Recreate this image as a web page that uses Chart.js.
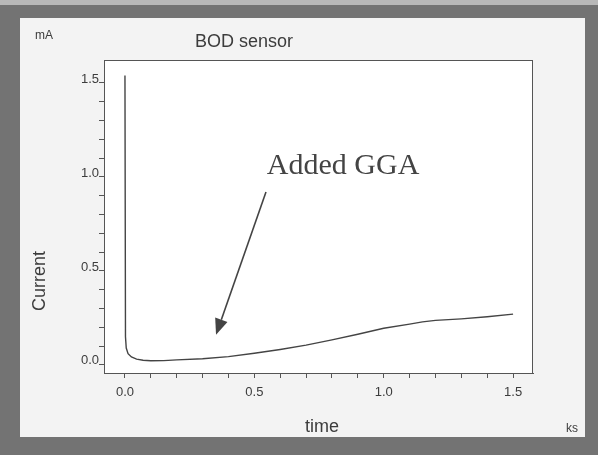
<!DOCTYPE html>
<html>
<head>
<meta charset="utf-8">
<script src="https://cdn.jsdelivr.net/npm/chart.js@4/dist/chart.umd.min.js"></script>
<style>
  html, body { margin: 0; padding: 0; background: #737373; }
  #wrap { width: 598px; height: 455px; }
</style>
</head>
<body>
<div id="wrap"><canvas id="bod" width="598" height="455"></canvas></div>
<script>
// measured BOD sensor response (time in ks, current in mA)
const timeKs = [0, 0.002, 0.005, 0.012, 0.025, 0.045, 0.07, 0.1, 0.15, 0.2, 0.3, 0.4, 0.5,
                0.6, 0.7, 0.8, 0.9, 1.0, 1.1, 1.15, 1.2, 1.3, 1.4, 1.5];
const currentMA = [1.54, 0.15, 0.09, 0.06, 0.042, 0.031, 0.025, 0.022, 0.023, 0.027, 0.033, 0.044, 0.062,
                   0.082, 0.105, 0.133, 0.163, 0.195, 0.217, 0.229, 0.237, 0.245, 0.256, 0.27];

// axis ticks (minor every 0.1, labels on the majors)
const tickValues = [0, 0.1, 0.2, 0.3, 0.4, 0.5, 0.6, 0.7, 0.8, 0.9, 1.0, 1.1, 1.2, 1.3, 1.4, 1.5];
const majorTicks = [0, 0.5, 1.0, 1.5];
const majorLabels = ['0.0', '0.5', '1.0', '1.5'];

// annotation "Added GGA" (data units)
const noteText = 'Added GGA';
const notePos = [0.843, 1.06];
const arrowFrom = [0.545, 0.92];
const arrowTo = [0.352, 0.16];

const ink = '#3c3c3c';
const axisColor = '#555555';

function labelFor(v) {
    const i = majorTicks.findIndex(m => Math.abs(m - v) < 1e-6);
    return i >= 0 ? majorLabels[i] : '';
}

const paperPlugin = {
    id: 'paper',
    beforeDraw(chart) {
        const { ctx, chartArea: a } = chart;
        ctx.save();
        ctx.fillStyle = '#737373';
        ctx.fillRect(0, 0, chart.width, chart.height);
        ctx.fillStyle = '#b8b8b8';
        ctx.fillRect(0, 0, chart.width, 5);
        ctx.fillStyle = '#f3f3f3';
        ctx.fillRect(20, 18, 565, 419);
        ctx.fillStyle = '#ffffff';
        ctx.fillRect(a.left, a.top, a.right - a.left, a.bottom - a.top);
        ctx.restore();
    },
    afterDraw(chart) {
        const { ctx, chartArea: a, scales } = chart;
        ctx.save();
        // frame round the plot
        ctx.strokeStyle = axisColor;
        ctx.lineWidth = 1;
        ctx.strokeRect(a.left + 0.5, a.top + 0.5, a.right - a.left - 1, a.bottom - a.top);

        ctx.fillStyle = ink;
        ctx.textBaseline = 'middle';
        ctx.textAlign = 'center';
        ctx.font = '18px "Liberation Sans", Arial, sans-serif';
        ctx.fillText('BOD sensor', 244, 42);
        ctx.fillText('time', 322, 427);
        ctx.font = '12px "Liberation Sans", Arial, sans-serif';
        ctx.fillText('mA', 44, 36);
        ctx.fillText('ks', 572, 429);

        ctx.save();
        ctx.translate(40, 281);
        ctx.rotate(-Math.PI / 2);
        ctx.font = '18px "Liberation Sans", Arial, sans-serif';
        ctx.fillText('Current', 0, 0);
        ctx.restore();

        // annotation with arrow
        const x = scales.x, y = scales.y;
        ctx.font = '30px "Liberation Serif", "Times New Roman", serif';
        ctx.fillStyle = '#444';
        ctx.fillText(noteText, x.getPixelForValue(notePos[0]), y.getPixelForValue(notePos[1]));

        const x1 = x.getPixelForValue(arrowFrom[0]), y1 = y.getPixelForValue(arrowFrom[1]);
        const x2 = x.getPixelForValue(arrowTo[0]), y2 = y.getPixelForValue(arrowTo[1]);
        const ang = Math.atan2(y2 - y1, x2 - x1);
        const headLen = 16, headW = 6.5;
        const bx = x2 - headLen * Math.cos(ang), by = y2 - headLen * Math.sin(ang);
        ctx.strokeStyle = '#444';
        ctx.lineWidth = 1.6;
        ctx.beginPath();
        ctx.moveTo(x1, y1);
        ctx.lineTo(bx, by);
        ctx.stroke();
        ctx.beginPath();
        ctx.moveTo(x2, y2);
        ctx.lineTo(bx + headW * Math.sin(ang), by - headW * Math.cos(ang));
        ctx.lineTo(bx - headW * Math.sin(ang), by + headW * Math.cos(ang));
        ctx.closePath();
        ctx.fill();
        ctx.restore();
    }
};

const tickFont = { family: '"Liberation Sans", Arial, sans-serif', size: 13 };

new Chart(document.getElementById('bod'), {
    type: 'scatter',
    data: {
        datasets: [{
            data: timeKs.map((t, i) => ({ x: t, y: currentMA[i] })),
            showLine: true,
            borderColor: '#444444',
            borderWidth: 1.4,
            pointRadius: 0,
            tension: 0
        }]
    },
    options: {
        responsive: false,
        animation: false,
        layout: { padding: { left: 60, right: 65, top: 60, bottom: 42 } },
        plugins: {
            legend: { display: false },
            tooltip: { enabled: false },
            title: { display: false }
        },
        scales: {
            x: {
                type: 'linear',
                min: -0.081,
                max: 1.577,
                afterBuildTicks: s => { s.ticks = tickValues.map(v => ({ value: v })); },
                afterFit: s => { s.height = 40; },
                grid: { drawOnChartArea: false, tickLength: 5, color: axisColor },
                border: { display: true, color: axisColor },
                ticks: { callback: labelFor, color: ink, font: tickFont, padding: 7, maxRotation: 0, autoSkip: false }
            },
            y: {
                type: 'linear',
                min: -0.043,
                max: 1.622,
                afterBuildTicks: s => { s.ticks = tickValues.map(v => ({ value: v })); },
                afterFit: s => { s.width = 44; },
                grid: { drawOnChartArea: false, tickLength: 5, color: axisColor },
                border: { display: true, color: axisColor },
                ticks: { callback: labelFor, color: ink, font: tickFont, padding: 0, labelOffset: -4, autoSkip: false }
            }
        }
    },
    plugins: [paperPlugin]
});
</script>
</body>
</html>
